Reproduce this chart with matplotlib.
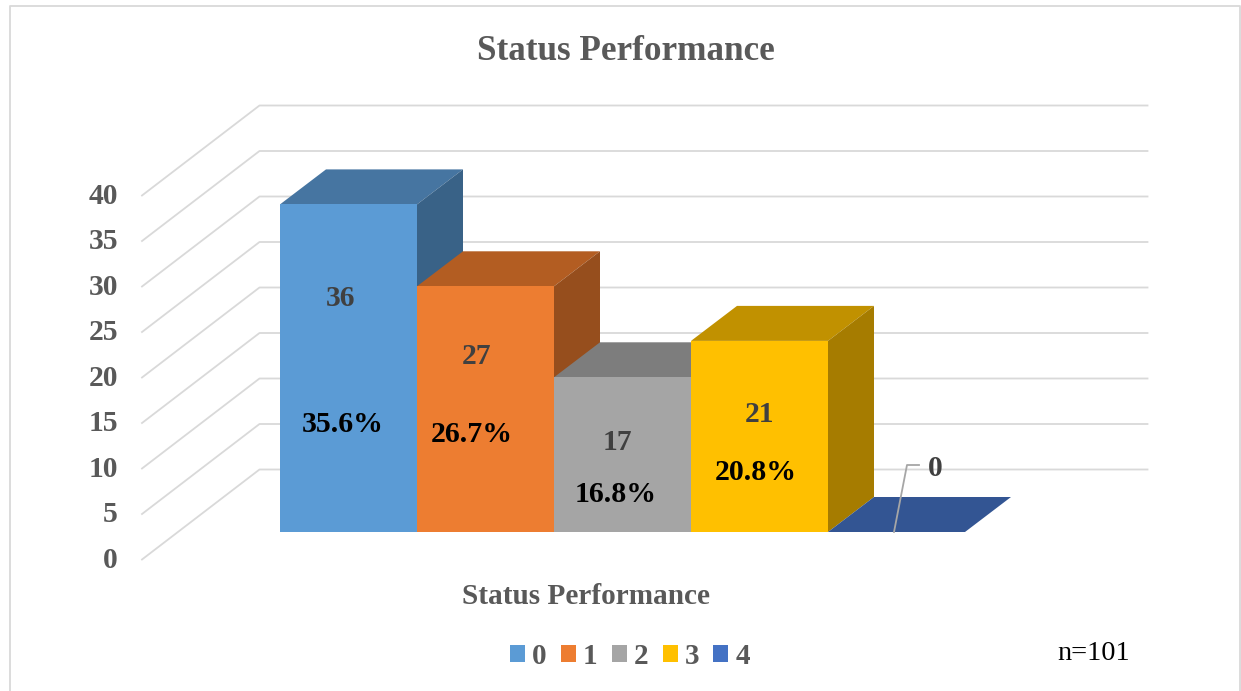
import matplotlib
matplotlib.use("Agg")
import matplotlib.pyplot as plt
from matplotlib.patches import Patch

# data
categories = ['0', '1', '2', '3', '4']
counts = [36, 27, 17, 21, 0]
percents = ['35.6%', '26.7%', '16.8%', '20.8%']
y_ticks = [0, 5, 10, 15, 20, 25, 30, 35, 40]

front_colors = ['#5B9BD5', '#ED7D31', '#A5A5A5', '#FFC000', '#335593']
top_colors = ['#4675A1', '#B35D22', '#7D7D7D', '#C19100', '#335593']
side_colors = ['#396287', '#964E1D', '#6E6E6E', '#A67C00', '#2A4675']
legend_colors = ['#5B9BD5', '#ED7D31', '#A5A5A5', '#FFC000', '#4472C4']

# scale: one category = 137 px, one unit of value = 9.1 px
W, H = 1241, 691
X0, Y0 = 280, 532
SX, SY = 137.0, 9.1


def px(x):
    return (x - X0) / SX


def py(y):
    return (Y0 - y) / SY


# depth of the bars and of the floor, in data units
bar_dx, bar_dy = 46 / SX, 35 / SY
wall_dx, wall_dy = 117.5 / SX, 90 / SY
wall_x0 = px(142)
wall_y0 = py(559.5)
wall_right = px(1147.5)

fig = plt.figure(figsize=(W / 100, H / 100), dpi=100)
ax = fig.add_axes([0, 0, 1, 1])
ax.set_xlim(px(0), px(W))
ax.set_ylim(py(H), py(0))
ax.axis('off')

plt.rcParams['font.family'] = ['Liberation Serif', 'DejaVu Serif']

# chart frame
ax.plot([px(10), px(10), px(1240), px(1240)], [py(H), py(6), py(6), py(H)],
        color='#D9D9D9', lw=1.3, zorder=1)

# grid lines along floor side and back wall
for v in y_ticks:
    ax.plot([wall_x0, wall_x0 + wall_dx, wall_right],
            [wall_y0 + v, wall_y0 + v + wall_dy, wall_y0 + v + wall_dy],
            color='#D9D9D9', lw=1.3, zorder=1)
    ax.text(px(118), wall_y0 + v - 0.1, str(v), ha='right', va='center', fontsize=21.3,
            fontweight='bold', color='#595959')

# bars, left to right so each one covers the side of the one before
for i, c in enumerate(counts):
    z = 2 + i
    ax.fill([i, i + 1, i + 1 + bar_dx, i + bar_dx], [c, c, c + bar_dy, c + bar_dy],
            color=top_colors[i], lw=0, zorder=z)
    if c > 0:
        ax.fill([i + 1, i + 1 + bar_dx, i + 1 + bar_dx, i + 1],
                [0, bar_dy, c + bar_dy, c], color=side_colors[i], lw=0, zorder=z)
        ax.bar(i, c, width=1, align='edge', color=front_colors[i], lw=0, zorder=z)

# data labels
count_pos = [(341, 299), (477, 356), (617, 443), (759, 414), (935, 469)]
pct_pos = [(343, 425), (472, 434), (616, 494), (756, 473)]
for c, (x, y) in zip(counts, count_pos):
    ax.text(px(x), py(y), str(c), ha='center', va='center', fontsize=21.3,
            fontweight='bold', color='#404040', zorder=10)
for p, (x, y) in zip(percents, pct_pos):
    ax.text(px(x), py(y), p, ha='center', va='center', fontsize=21.5,
            fontweight='bold', color='black', zorder=10)

# leader line of the zero label
ax.plot([px(894), px(907), px(919)], [py(532), py(465), py(465)],
        color='#A6A6A6', lw=1.3, zorder=9)

ax.text(px(625.5), py(51.5), 'Status Performance', ha='center', va='center', fontsize=25.3,
        fontweight='bold', color='#595959')
ax.text(px(586.5), py(596), 'Status Performance', ha='center', va='center', fontsize=21.1,
        fontweight='bold', color='#595959')
ax.text(px(1094), py(653), 'n=101', ha='center', va='center', fontsize=20.4, color='black')

handles = [Patch(color=col, lw=0) for col in legend_colors]
leg = ax.legend(handles, categories, ncol=5, frameon=False, loc='center',
                bbox_to_anchor=(630 / W, 1 - 656 / H),
                handlelength=0.51, handleheight=0.51, handletextpad=0.24,
                columnspacing=0.49, borderpad=0, borderaxespad=0,
                prop={'family': 'Liberation Serif', 'weight': 'bold', 'size': 21})
for t in leg.get_texts():
    t.set_color('#595959')

plt.savefig('out.png', dpi=100)
